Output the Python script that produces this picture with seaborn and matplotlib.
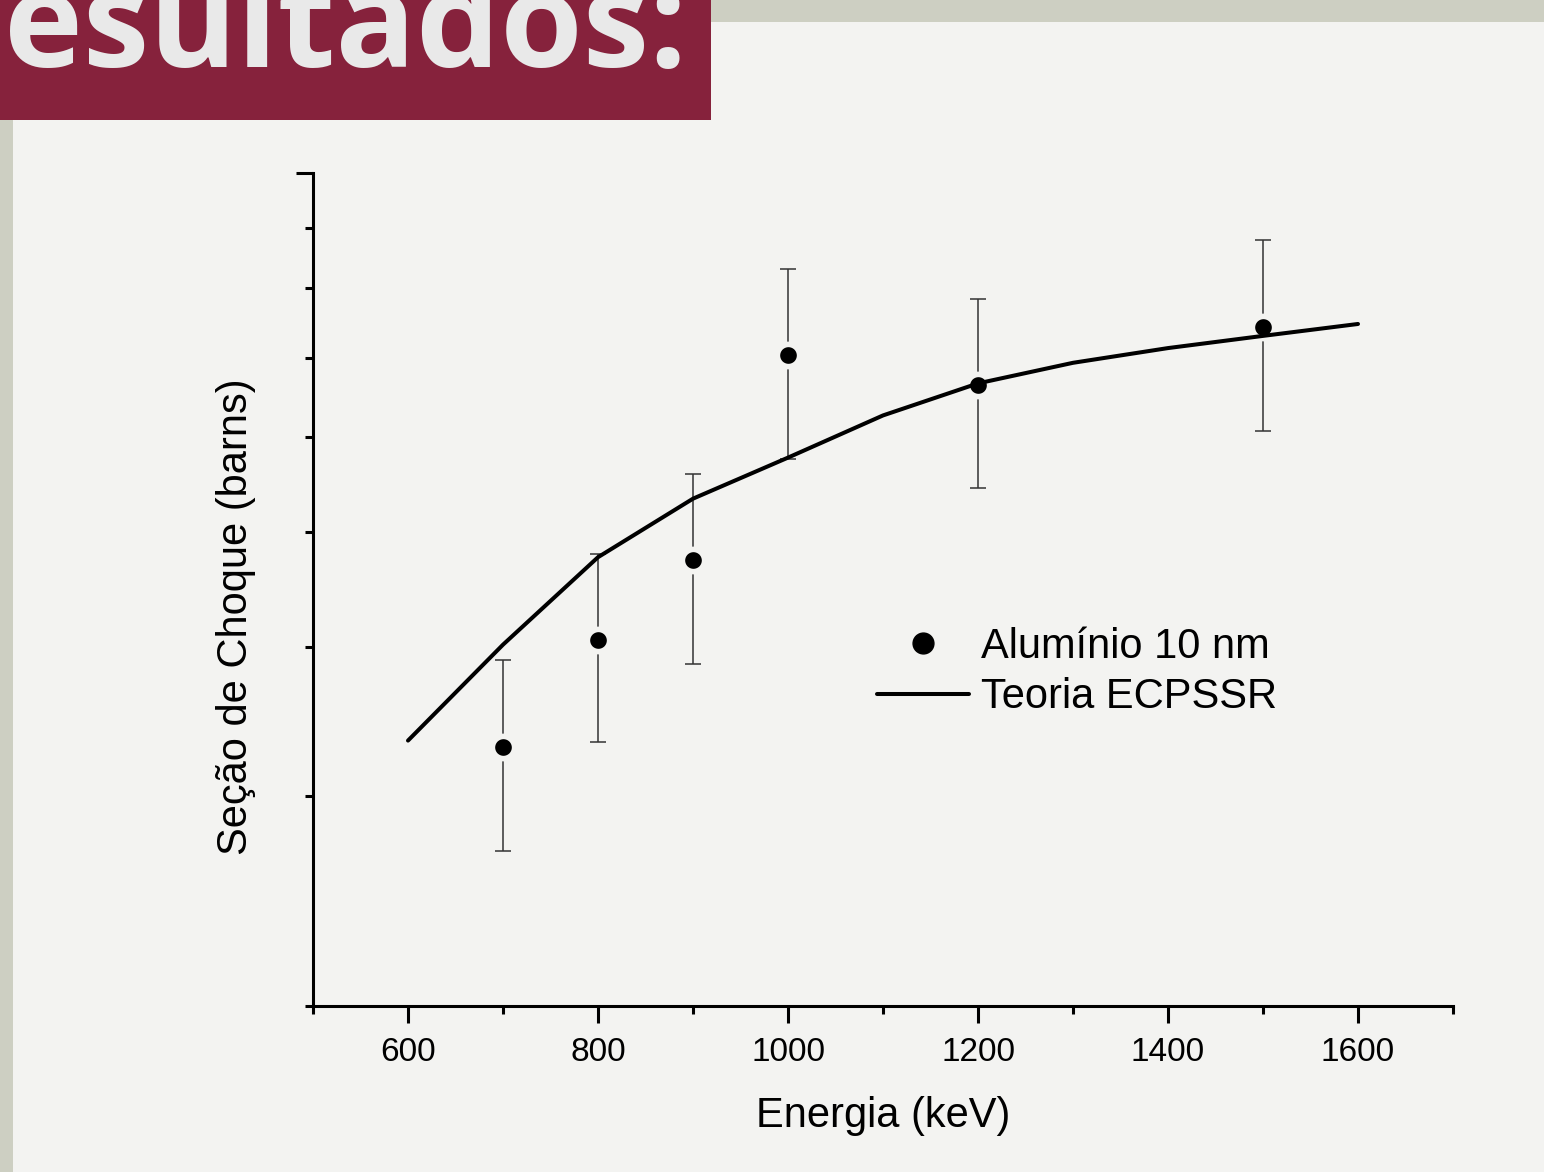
import matplotlib
matplotlib.use("Agg")
import matplotlib.pyplot as plt
import seaborn as sns
import pandas as pd
from matplotlib.lines import Line2D
from matplotlib.patches import Rectangle
from matplotlib.ticker import FixedLocator, NullFormatter

# ---- data (y in barns, log axis) ----
energy_exp = [700, 800, 900, 1000, 1200, 1500]
sigma_exp = [330, 406, 473, 703, 664, 743]
sigma_err = [60, 73, 86, 127, 120, 135]

energy_theory = [600, 700, 800, 900, 1000, 1100, 1200, 1300, 1400, 1500, 1600]
sigma_theory = [334, 402, 476, 533, 577, 626, 666, 693, 713, 730, 747]

x_major = [600, 800, 1000, 1200, 1400, 1600]
x_minor = [500, 700, 900, 1100, 1300, 1500, 1700]
y_major = [1000]
y_minor = [200, 300, 400, 500, 600, 700, 800, 900]

label_exp = "Alumínio 10 nm"
label_theory = "Teoria ECPSSR"
xlabel = "Energia (keV)"
ylabel = "Seção de Choque (barns)"
banner = "esultados:"

df_exp = pd.DataFrame({"E": energy_exp, "s": sigma_exp, "err": sigma_err})
df_th = pd.DataFrame({"E": energy_theory, "s": sigma_theory})

BG = "#f3f3f1"
MAROON = "#86223c"
GREY = "#cdcfc2"

sns.set_theme(style="ticks")
plt.rcParams["font.family"] = ["Liberation Sans", "DejaVu Sans"]
plt.rcParams["text.color"] = "black"

W, H = 1544, 1172
fig = plt.figure(figsize=(W / 100, H / 100), dpi=100, facecolor=BG)

# slide decorations
fig.add_artist(Rectangle((0, 1 - 120 / H), 711 / W, 120 / H, transform=fig.transFigure,
                         facecolor=MAROON, edgecolor="none", zorder=0))
fig.add_artist(Rectangle((711 / W, 1 - 22 / H), 1 - 711 / W, 22 / H, transform=fig.transFigure,
                         facecolor=GREY, edgecolor="none", zorder=0))
fig.add_artist(Rectangle((0, 0), 13 / W, 1 - 120 / H, transform=fig.transFigure,
                         facecolor=GREY, edgecolor="none", zorder=0))
fig.text(4 / W, 1 - 67 / H, banner, fontsize=96, fontweight="bold", color="#e9e9e9",
         family=["Open Sans", "DejaVu Sans"], ha="left", va="baseline")

ax = fig.add_axes([313 / W, 1 - 1006 / H, 1140 / W, 833 / H])
ax.set_facecolor(BG)
ax.patch.set_alpha(0)

ax.errorbar(df_exp["E"], df_exp["s"], yerr=df_exp["err"], fmt="none", ecolor="#333333",
            elinewidth=1.1, capsize=6, capthick=1.1, zorder=2)
sns.scatterplot(data=df_exp, x="E", y="s", ax=ax, color="black", s=256,
                edgecolor=BG, linewidth=4.0, zorder=3, legend=False)
sns.lineplot(data=df_th, x="E", y="s", ax=ax, color="black", linewidth=2.9, zorder=4,
             legend=False)

ax.set_yscale("log")
ax.set_xlim(500, 1700)
ax.set_ylim(200, 1000)
ax.xaxis.set_major_locator(FixedLocator(x_major))
ax.xaxis.set_minor_locator(FixedLocator(x_minor))
ax.yaxis.set_major_locator(FixedLocator(y_major))
ax.yaxis.set_minor_locator(FixedLocator(y_minor))
ax.yaxis.set_major_formatter(NullFormatter())
ax.yaxis.set_minor_formatter(NullFormatter())
ax.xaxis.set_minor_formatter(NullFormatter())

for side in ["top", "right"]:
    ax.spines[side].set_visible(False)
for side in ["left", "bottom"]:
    ax.spines[side].set_linewidth(2.2)
    ax.spines[side].set_color("black")

ax.tick_params(which="major", length=12, width=2.2, color="black", direction="out",
               labelsize=24, labelcolor="black", pad=10)
ax.tick_params(which="minor", length=6, width=2.2, color="black", direction="out")

ax.set_xlabel(xlabel, fontsize=30, color="black")
ax.set_ylabel(ylabel, fontsize=30, color="black")
ax.xaxis.set_label_coords(0.5, -0.108)
ax.yaxis.set_label_coords(-0.05, 0.467)

handles = [Line2D([], [], marker="o", ls="none", color="black", markersize=15),
           Line2D([], [], color="black", linewidth=2.9)]
fig.legend(handles, [label_exp, label_theory], loc="center left",
           bbox_to_anchor=(877 / W, 1 - 672 / H), frameon=False, fontsize=30,
           handlelength=2.2, handletextpad=0.3, labelspacing=0.26, borderpad=0,
           borderaxespad=0, labelcolor="black")

fig.savefig("out.png", dpi=100, facecolor=BG)
